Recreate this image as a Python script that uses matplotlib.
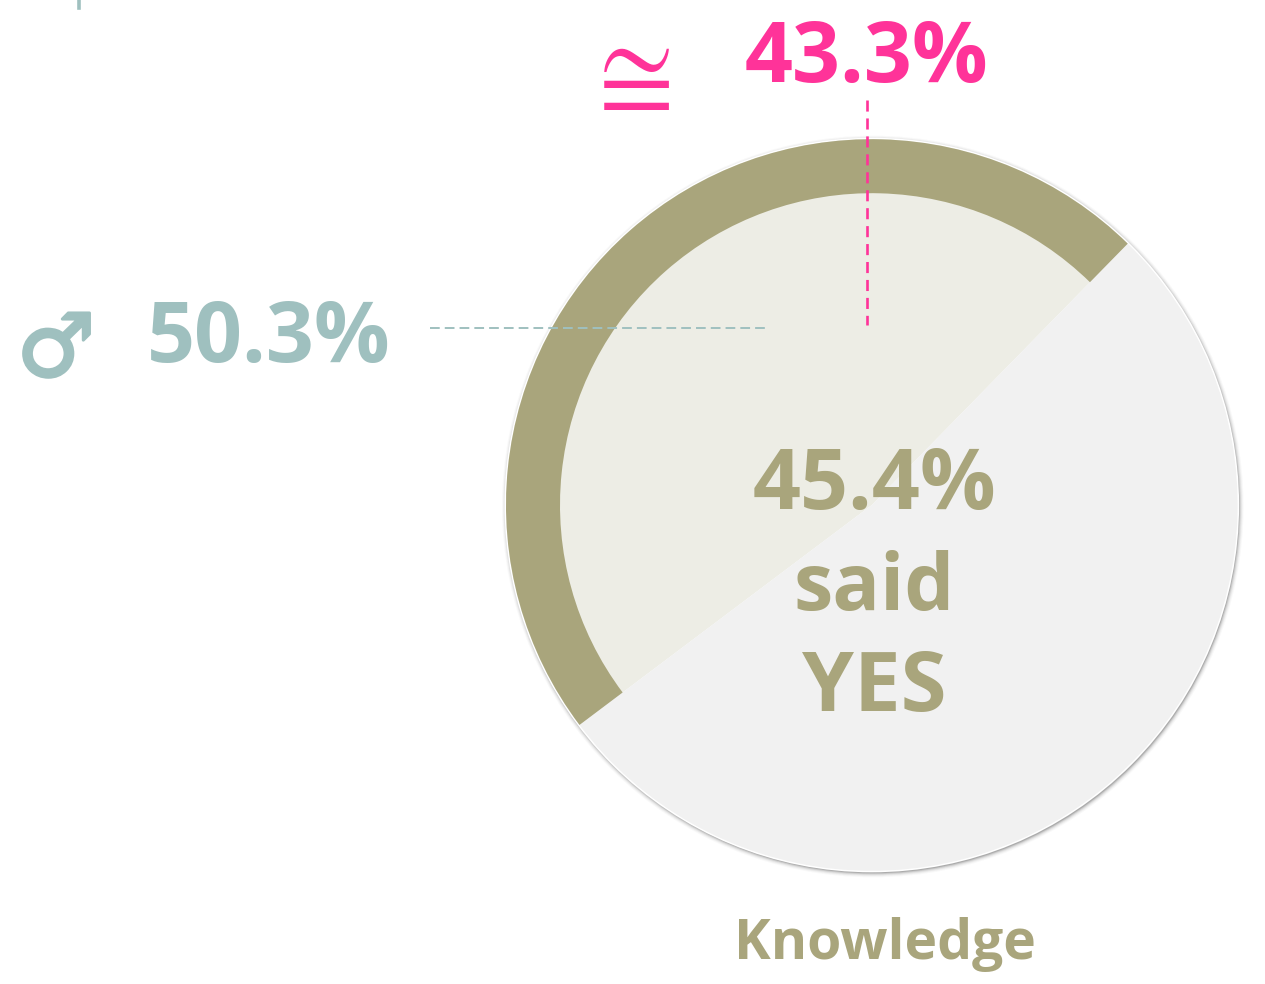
import matplotlib
matplotlib.use("Agg")
import matplotlib.pyplot as plt
import matplotlib.patheffects as pe
from matplotlib.patches import Circle, Wedge

# share of the circle as drawn
slice_values = [47.6, 52.4]
slice_colors = ["#EDEDE5", "#F1F1F1"]
yes_label = "45.4%"
male_label = "50.3%"
female_label = "43.3%"
title = "Knowledge"

W, H = 1265, 984
OLIVE = "#A9A57C"
PINK = "#FF3399"
TEAL = "#9FC0BF"
FONT = ["Open Sans", "DejaVu Sans"]


def Y(py):
    return H - py


fig = plt.figure(figsize=(W / 100, H / 100), dpi=100)
ax = fig.add_axes([0, 0, 1, 1])

cx, cy, r = 871.8, Y(505), 365.8
start = 45.6

# soft shadow round the disc, a bit heavier to the lower right
for grow, alpha in [(5, 0.03), (4, 0.05), (3, 0.08), (2, 0.14), (1, 0.22)]:
    ax.add_patch(Circle((cx + 1, cy - 1.5), r + grow, color="#444444", alpha=alpha, lw=0, zorder=1))
ax.add_patch(Circle((cx, cy), r + 1.5, color="white", lw=0, zorder=2))

ax.pie(slice_values, colors=slice_colors, startangle=start, center=(cx, cy), radius=r,
       wedgeprops={"linewidth": 0, "zorder": 3})
ax.set_aspect("auto")
ax.set_xlim(0, W)
ax.set_ylim(0, H)
ax.axis("off")

# outer ring on the YES slice
end = start + slice_values[0] / sum(slice_values) * 360
ax.add_patch(Wedge((cx, cy), r, start, end, width=54, color=OLIVE, lw=0, zorder=4))

# guide lines
ax.plot([867, 867], [Y(100), Y(325)], color=PINK, lw=1.9, dashes=(4.2, 2.6), zorder=5)
ax.plot([430, 765], [Y(327.5), Y(327.5)], color=TEAL, lw=1.4, dashes=(5, 2.6), zorder=5)
ax.plot([78.5, 78.5], [Y(0), Y(8)], color=TEAL, lw=2.6, zorder=5)

ax.text(866.5, Y(82), female_label, color=PINK, fontsize=60.6, fontweight="bold", family=FONT,
        ha="center", va="baseline", zorder=6)
ax.text(269, Y(362), male_label, color=TEAL, fontsize=60.6, fontweight="bold", family=FONT,
        ha="center", va="baseline", zorder=6)
ax.text(627, Y(107), r"$\cong$", color=PINK, fontsize=79, math_fontfamily="stix",
        ha="center", va="baseline", zorder=6)
ax.text(56, Y(376), "\u2642", color=TEAL, fontsize=63, fontweight="bold", family="DejaVu Sans",
        ha="center", va="baseline", zorder=6,
        path_effects=[pe.withStroke(linewidth=2.2, foreground=TEAL)])

ax.text(874, Y(509), yes_label, color=OLIVE, fontsize=60.6, fontweight="bold", family=FONT,
        ha="center", va="baseline", zorder=6)
ax.text(874, Y(610), "said", color=OLIVE, fontsize=57, fontweight="bold", family=FONT,
        ha="center", va="baseline", zorder=6)
ax.text(874, Y(711), "YES", color=OLIVE, fontsize=60, fontweight="bold", family=FONT,
        ha="center", va="baseline", zorder=6)
ax.text(885, Y(959), title, color=OLIVE, fontsize=39.8, fontweight="bold", family=FONT,
        ha="center", va="baseline", zorder=6)

fig.savefig("out.png", dpi=100, facecolor="white")
